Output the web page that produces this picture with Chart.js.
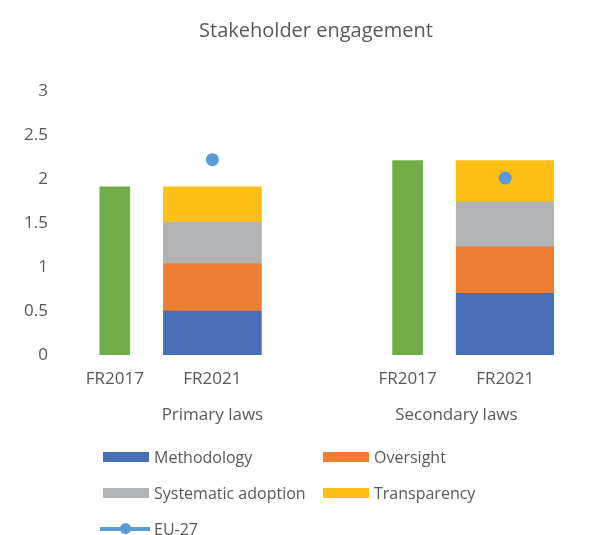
<!DOCTYPE html>
<html>
<head>
<meta charset="utf-8">
<script src="https://cdn.jsdelivr.net/npm/chart.js@4/dist/chart.umd.min.js"></script>
<style>
  body { margin: 0; background: #fff; font-family: "Open Sans", sans-serif; }
  #wrap { position: relative; width: 614px; height: 535px; }
  #legend {
    position: absolute; left: 100px; top: 439px;
    display: grid; grid-template-columns: 220px 200px; grid-auto-rows: 36px;
    color: #595959; font-size: 16px;
  }
  .item { display: flex; align-items: center; }
  .box { width: 46px; height: 10px; margin: 0 5px 0 3px; }
  .lineKey { position: relative; width: 50px; height: 4px; margin-right: 4px; }
  .lineKey span { position: absolute; left: 20px; top: -4px; width: 11px; height: 11px; border-radius: 50%; }
</style>
</head>
<body>
<div id="wrap">
  <canvas id="chart"></canvas>
  <div id="legend"></div>
</div>
<script>
// дані
const categories = ["FR2017", "FR2021", "", "FR2017", "FR2021"];
const groupLabels = ["Primary laws", "Secondary laws"];
const groupFirst = [0, 3];
const groupLast = [2, 4];

const fr2017Total = [1.91, null, null, 2.21, null];
const methodology = [null, 0.5, null, null, 0.7];
const oversight = [null, 0.54, null, null, 0.53];
const systematicAdoption = [null, 0.47, null, null, 0.51];
const transparency = [null, 0.4, null, null, 0.47];
const eu27 = [null, 2.22, null, null, 2.01];

const yTicks = [0, 0.5, 1, 1.5, 2, 2.5, 3];

const textColor = "#595959";
const fontFamily = "'Open Sans', sans-serif";

// підписи груп під віссю X
const groupLabelPlugin = {
  id: "groupLabels",
  afterDraw(chart) {
    const x = chart.scales.x;
    const ctx = chart.ctx;
    ctx.save();
    ctx.font = "17px " + fontFamily;
    ctx.fillStyle = textColor;
    ctx.textAlign = "center";
    ctx.textBaseline = "middle";
    groupLabels.forEach((label, i) => {
      const cx = (x.getPixelForValue(groupFirst[i]) + x.getPixelForValue(groupLast[i])) / 2;
      ctx.fillText(label, cx, x.bottom + 30);
    });
    ctx.restore();
  },
};

function stacked(label, data, color) {
  return {
    label: label,
    data: data,
    backgroundColor: color,
    stack: "s",
    barThickness: 98,
    order: 1,
    inLegend: true,
  };
}

const ctx = document.getElementById("chart").getContext("2d");
const chart = new Chart(ctx, {
  type: "bar",
  data: {
    labels: categories,
    datasets: [
      {
        label: "FR2017",
        data: fr2017Total,
        backgroundColor: "#70AD47",
        stack: "s",
        barThickness: 30,
        order: 1,
        inLegend: false,
      },
      stacked("Methodology", methodology, "#4870B8"),
      stacked("Oversight", oversight, "#ED7D31"),
      stacked("Systematic adoption", systematicAdoption, "#B1B2B4"),
      stacked("Transparency", transparency, "#FDBF13"),
      {
        type: "line",
        label: "EU-27",
        data: eu27,
        showLine: false,
        borderColor: "#5B9BD5",
        backgroundColor: "#5B9BD5",
        pointRadius: 6.5,
        pointBorderWidth: 0,
        order: 0,
        inLegend: true,
        lineKey: true,
      },
    ],
  },
  options: {
    responsive: true,
    maintainAspectRatio: false,
    animation: false,
    layout: { padding: { left: 18, right: 0, top: 0, bottom: 150 } },
    plugins: {
      legend: { display: false },
      tooltip: { enabled: false },
      title: {
        display: true,
        text: "Stakeholder engagement",
        color: textColor,
        font: { family: fontFamily, size: 20, weight: "normal" },
        padding: { top: 19, bottom: 48 },
      },
    },
    scales: {
      x: {
        stacked: true,
        grid: { display: false, drawTicks: false },
        border: { display: false },
        ticks: { color: textColor, font: { family: fontFamily, size: 17 }, padding: 14 },
        afterFit: (s) => { s.height = 30; },
      },
      y: {
        stacked: true,
        min: 0,
        max: 3,
        grid: { display: false, drawTicks: false },
        border: { display: false },
        ticks: {
          color: textColor,
          font: { family: fontFamily, size: 17 },
          padding: 18,
          callback: (v) => String(v),
        },
        afterBuildTicks: (s) => { s.ticks = yTicks.map((v) => ({ value: v })); },
        afterFit: (s) => { s.width = 48; },
      },
      // порожня права вісь, щоб лишити поле праворуч
      yRight: {
        position: "right",
        min: 0,
        max: 3,
        grid: { display: false, drawTicks: false },
        border: { display: false },
        ticks: { display: false },
        afterFit: (s) => { s.width = 60; },
      },
    },
  },
  plugins: [groupLabelPlugin],
});

// легенда у стилі Excel, два стовпці
const legend = document.getElementById("legend");
chart.data.datasets.filter((d) => d.inLegend).forEach((d) => {
  const item = document.createElement("div");
  item.className = "item";
  if (d.lineKey) {
    item.innerHTML = '<div class="lineKey" style="background:' + d.borderColor +
      '"><span style="background:' + d.borderColor + '"></span></div>' + d.label;
  } else {
    item.innerHTML = '<div class="box" style="background:' + d.backgroundColor + '"></div>' + d.label;
  }
  legend.appendChild(item);
});
</script>
</body>
</html>
